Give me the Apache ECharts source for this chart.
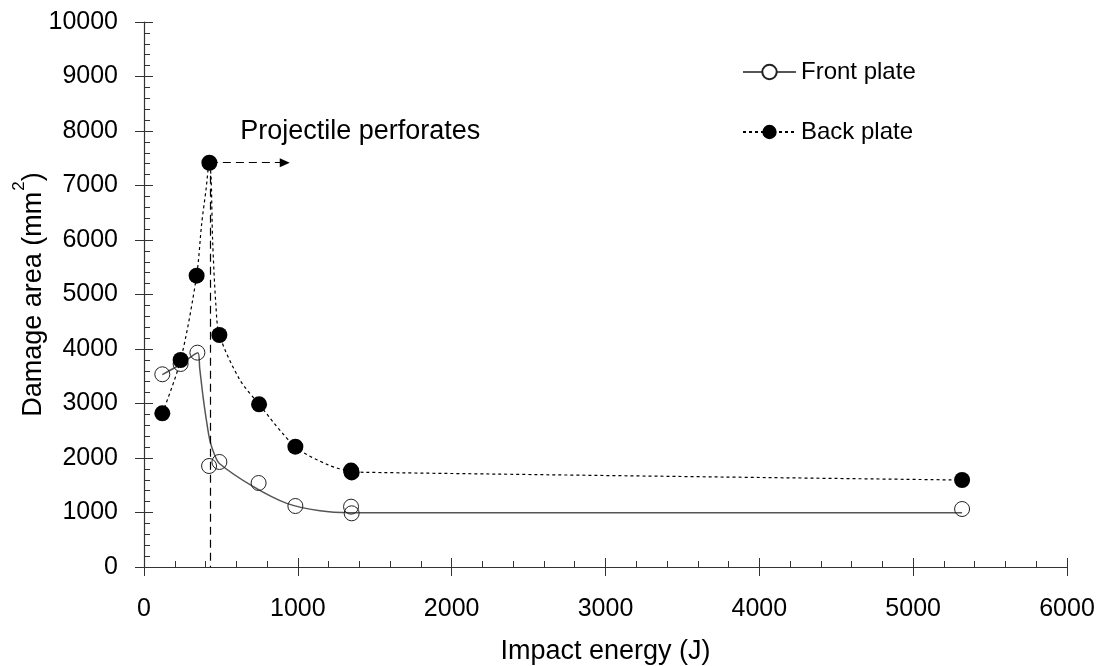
<!DOCTYPE html>
<html>
<head>
<meta charset="utf-8">
<script src="https://cdn.jsdelivr.net/npm/echarts@6/dist/echarts.min.js"></script>
<style>
  html, body { margin: 0; padding: 0; background: #fff; }
  #main { width: 1102px; height: 666px; }
</style>
</head>
<body>
<div id="main"></div>
<script>
var myChart = echarts.init(document.getElementById("main"));

// measured points (impact energy J, damage area mm2)
var frontPoints = [[119,3536],[238,3725],[347,3933],[423,1853],[490,1927],[745,1541],[984,1119],[1346,1107],[1350,985],[5318,1064]];
var backPoints = [[119,2820],[238,3798],[342,5345],[425,7418],[490,4257],[748,2985],[984,2208],[1346,1770],[1350,1735],[5318,1596]];

// trend curves drawn in the figure
var frontCurve = [[119,3530],[238,3720],[350,3930],[362,3650],[385,3100],[412,2575],[430,2300],[455,2086],[490,1900],[711,1474],[928,1168],[1144,1033],[1339,996],[1500,995],[5318,995]];
var backCurve = [[119,2820],[238,3798],[342,5345],[375,6300],[403,6920],[425,7418],[436,7150],[446,6000],[468,4776],[490,4257],[620,3450],[748,2985],[984,2208],[1200,1870],[1346,1756],[1426,1738],[5318,1596]];

// annotation
var perfEnergy = 428;
var perfArea = 7418;
var arrowEnd = 915;
var noteText = 'Projectile perforates';
var notePos = [622, 7985];

var xTicks = { min: 0, max: 6000, interval: 1000 };
var yTicks = { min: 0, max: 10000, interval: 1000 };

var axisColor = '#333';
var font = 'Liberation Sans, Arial, sans-serif';

function plain(v) { return String(v); }

option = {
    animation: false,
    backgroundColor: '#fff',
    grid: { left: 144, right: 35, top: 22, bottom: 99, outerBoundsMode: 'none', containLabel: false },
    legend: {
        orient: 'vertical',
        left: 737,
        top: 55,
        itemWidth: 53,
        itemHeight: 18,
        itemGap: 36,
        data: ['Front plate', 'Back plate'],
        textStyle: { fontFamily: font, fontSize: 24, color: '#000', padding: [0, 0, 0, 0] }
    },
    xAxis: [{
        type: 'value',
        min: xTicks.min, max: xTicks.max, interval: xTicks.interval,
        name: 'Impact energy (J)',
        nameLocation: 'middle',
        nameGap: 71,
        nameMoveOverlap: false,
        nameTextStyle: { fontFamily: font, fontSize: 27, color: '#000' },
        axisLine: { show: true, lineStyle: { color: axisColor, width: 1.2 } },
        axisTick: { show: true, inside: true, length: 9, lineStyle: { color: axisColor } },
        minorTick: { show: true, splitNumber: 5, length: 6, lineStyle: { color: axisColor } },
        axisLabel: { margin: 30, fontFamily: font, fontSize: 25, color: '#000', formatter: plain },
        splitLine: { show: false }
    }, {
        type: 'value',
        position: 'bottom',
        min: xTicks.min, max: xTicks.max, interval: xTicks.interval,
        axisLine: { show: false },
        axisTick: { show: true, inside: false, length: 9, lineStyle: { color: axisColor } },
        axisLabel: { show: false },
        splitLine: { show: false }
    }],
    yAxis: [{
        type: 'value',
        min: yTicks.min, max: yTicks.max, interval: yTicks.interval,
        name: 'Damage area (mm{sup|2})',
        nameLocation: 'middle',
        nameRotate: 90,
        nameGap: 88,
        nameMoveOverlap: false,
        nameTextStyle: {
            fontFamily: font, fontSize: 27, color: '#000',
            rich: { sup: { fontFamily: font, fontSize: 17, color: '#000', padding: [0, 0, 28, 1] } }
        },
        axisLine: { show: true, lineStyle: { color: axisColor, width: 1.2 } },
        axisTick: { show: true, inside: true, length: 9, lineStyle: { color: axisColor } },
        minorTick: { show: true, splitNumber: 5, length: 6, lineStyle: { color: axisColor } },
        axisLabel: { margin: 26, fontFamily: font, fontSize: 25, color: '#000', formatter: plain },
        splitLine: { show: false }
    }, {
        type: 'value',
        position: 'left',
        min: yTicks.min, max: yTicks.max, interval: yTicks.interval,
        axisLine: { show: false },
        axisTick: { show: true, inside: false, length: 9, lineStyle: { color: axisColor } },
        axisLabel: { show: false },
        splitLine: { show: false }
    }],
    series: [
        {
            name: 'Front plate',
            type: 'line',
            data: frontCurve,
            smooth: 0.3,
            showSymbol: false,
            symbol: 'circle',
            silent: true,
            lineStyle: { color: '#555', width: 1.5 },
            itemStyle: { color: '#fff', borderColor: '#222', borderWidth: 1 },
            z: 2
        },
        {
            name: 'Back plate',
            type: 'line',
            data: backCurve,
            smooth: 0.3,
            showSymbol: false,
            symbol: 'circle',
            silent: true,
            lineStyle: { color: '#000', width: 1.2, type: [3, 3] },
            itemStyle: { color: '#000', borderColor: '#000' },
            z: 2,
            markLine: {
                silent: true,
                symbol: ['none', 'none'],
                label: { show: false },
                lineStyle: { color: '#000', width: 1.2, type: [8, 5] },
                data: [
                    [{ coord: [perfEnergy, perfArea] }, { coord: [arrowEnd, perfArea], symbol: 'triangle', symbolSize: [9, 10], symbolRotate: -90 }],
                    [{ coord: [perfEnergy, perfArea] }, { coord: [perfEnergy, 0] }]
                ]
            },
            markPoint: {
                silent: true,
                symbol: 'circle',
                symbolSize: 1,
                itemStyle: { color: 'rgba(0,0,0,0)' },
                label: {
                    show: true, position: 'right', distance: 0,
                    fontFamily: font, fontSize: 27, color: '#000',
                    formatter: noteText
                },
                data: [{ coord: notePos }]
            }
        },
        {
            name: 'Front plate points',
            type: 'scatter',
            data: frontPoints,
            symbol: 'circle',
            symbolSize: 15,
            itemStyle: { color: 'rgba(255,255,255,0)', borderColor: '#222', borderWidth: 1, opacity: 1 },
            z: 4
        },
        {
            name: 'Back plate points',
            type: 'scatter',
            data: backPoints,
            symbol: 'circle',
            symbolSize: 16,
            itemStyle: { color: '#000', opacity: 1 },
            z: 5
        }
    ]
};
myChart.setOption(option);

window.addEventListener('resize', function () {
    myChart.resize();
});
</script>
</body>
</html>
